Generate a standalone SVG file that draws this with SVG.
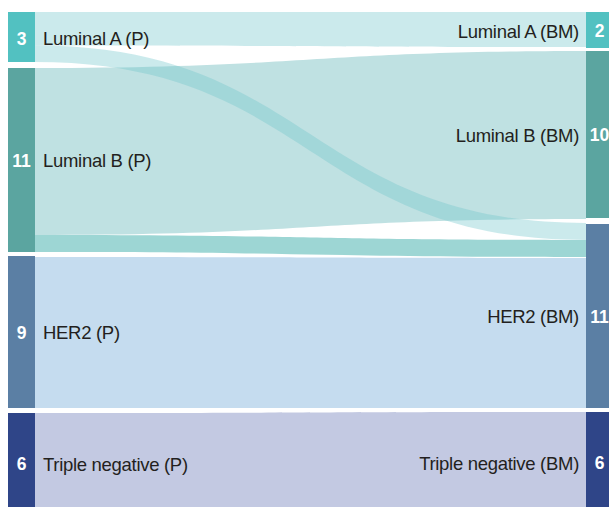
<svg xmlns="http://www.w3.org/2000/svg" width="609" height="507" viewBox="0 0 609 507">
<style>
.lbl{font-family:"Liberation Sans",Arial,sans-serif;font-size:18.5px;fill:#231f20;letter-spacing:-0.3px}
.num{font-family:"Liberation Sans",Arial,sans-serif;font-size:17.5px;font-weight:bold;fill:#ffffff;text-anchor:middle}
.end{text-anchor:end}
.lumA{fill:#52c1c1}
.lumB{fill:#5ba5a0}
.her2{fill:#5b7fa4}
.tn{fill:#2f4588}
.fA{fill:rgb(110,196,202);fill-opacity:0.36}
.fB{fill:#bfe1e2}
.fBH{fill:#9dd6d4}
.fH{fill:#c5dcef}
.fT{fill:#c3c9e2}
</style>
<rect width="609" height="507" fill="#ffffff"/>
<g id="connectors">
<path id="lumB-lumB" class="fB" d="M35 68 C310.5 68 310.5 51 586 51 L586 219 C310.5 219 310.5 235 35 235 Z"/>
<path id="lumB-her2" class="fBH" d="M35 235 C310.5 235 310.5 240 586 240 L586 257 C310.5 257 310.5 252 35 252 Z"/>
<path id="her2-her2" class="fH" d="M35 257 C310.5 257 310.5 258 586 258 L586 408 C310.5 408 310.5 408 35 408 Z"/>
<path id="tn-tn" class="fT" d="M35 413 C310.5 413 310.5 412 586 412 L586 520 L35 520 Z"/>
<path id="lumA-lumA" class="fA" d="M35 12 L586 12 L586 47 C310.5 47 310.5 45.5 35 45.5 Z"/>
<path id="lumA-her2" class="fA" d="M35 45.5 C310.5 45.5 310.5 223 586 223 L586 240 C310.5 240 310.5 62 35 62 Z"/>
</g>
<g id="node-lumA-P">
<rect class="lumA" x="8" y="12" width="27" height="50"/>
<text class="num" x="21.5" y="44.5">3</text>
<text class="lbl" x="43" y="45">Luminal A (P)</text>
</g>
<g id="node-lumB-P">
<rect class="lumB" x="8" y="68" width="27" height="184"/>
<text class="num" x="21.5" y="166.5">11</text>
<text class="lbl" x="43" y="167">Luminal B (P)</text>
</g>
<g id="node-her2-P">
<rect class="her2" x="8" y="256" width="27" height="152"/>
<text class="num" x="21.5" y="338.5">9</text>
<text class="lbl" x="43" y="339">HER2 (P)</text>
</g>
<g id="node-tn-P">
<rect class="tn" x="8" y="413" width="27" height="101"/>
<text class="num" x="21.5" y="470">6</text>
<text class="lbl" x="43" y="470.5">Triple negative (P)</text>
</g>
<g id="node-lumA-BM">
<rect class="lumA" x="586" y="12" width="27" height="36"/>
<text class="num" x="599.5" y="37">2</text>
<text class="lbl end" x="579" y="37.5">Luminal A (BM)</text>
</g>
<g id="node-lumB-BM">
<rect class="lumB" x="586" y="51" width="27" height="167"/>
<text class="num" x="599.5" y="141">10</text>
<text class="lbl end" x="579" y="141.5">Luminal B (BM)</text>
</g>
<g id="node-her2-BM">
<rect class="her2" x="586" y="224" width="27" height="184"/>
<text class="num" x="599.5" y="322.5">11</text>
<text class="lbl end" x="579" y="323">HER2 (BM)</text>
</g>
<g id="node-tn-BM">
<rect class="tn" x="586" y="412" width="27" height="101"/>
<text class="num" x="599.5" y="469">6</text>
<text class="lbl end" x="579" y="469.5">Triple negative (BM)</text>
</g>
</svg>
